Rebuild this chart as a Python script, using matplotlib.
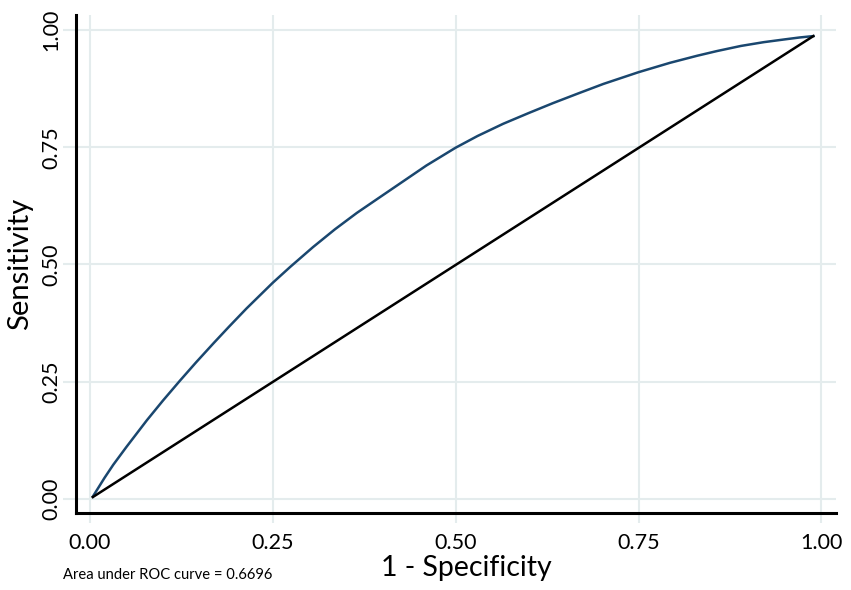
import matplotlib.pyplot as plt

plt.rcParams['font.family'] = ['Lato', 'DejaVu Sans']

# ROC curve
fpr = [0.004, 0.020, 0.032, 0.050, 0.078, 0.100, 0.123, 0.145, 0.169, 0.190,
       0.214, 0.250, 0.274, 0.305, 0.335, 0.365, 0.396, 0.428, 0.460, 0.500,
       0.530, 0.565, 0.600, 0.633, 0.668, 0.702, 0.750, 0.793, 0.830, 0.857,
       0.890, 0.921, 0.950, 0.970, 0.989]
tpr = [0.005, 0.045, 0.073, 0.111, 0.168, 0.210, 0.252, 0.291, 0.332, 0.367,
       0.406, 0.461, 0.495, 0.537, 0.575, 0.610, 0.643, 0.677, 0.711, 0.749,
       0.774, 0.800, 0.823, 0.844, 0.865, 0.885, 0.910, 0.930, 0.945, 0.955,
       0.966, 0.974, 0.980, 0.984, 0.987]

# reference line
ref_x = [0.004, 0.989]
ref_y = [0.004, 0.987]

ticks = [0.0, 0.25, 0.5, 0.75, 1.0]
tick_labels = ['0.00', '0.25', '0.50', '0.75', '1.00']
auc_text = 'Area under ROC curve = 0.6696'

grid_col = '#e4eced'

fig = plt.figure(figsize=(8.51, 5.90), dpi=100)
ax = fig.add_axes([0.0893, 0.1297, 0.8931, 0.8449])

ax.plot(fpr, tpr, color='#1a476f', linewidth=1.8, zorder=3)
ax.plot(ref_x, ref_y, color='black', linewidth=1.8, zorder=3)

ax.set_xlim(-0.019, 1.020)
ax.set_ylim(-0.031, 1.032)
ax.set_xticks(ticks)
ax.set_xticklabels(tick_labels)
ax.set_yticks(ticks)
ax.set_yticklabels(tick_labels, rotation=90, va='center')

ax.grid(True, color=grid_col, linewidth=1.5, zorder=0)
ax.set_axisbelow(True)
ax.tick_params(axis='x', length=7, width=1.5, color=grid_col, pad=7, labelsize=15.5)
ax.tick_params(axis='y', length=9.5, width=1.5, color=grid_col, pad=1, labelsize=15.5)

for side in ['top', 'right']:
    ax.spines[side].set_visible(False)
for side in ['left', 'bottom']:
    ax.spines[side].set_linewidth(2.2)
    ax.spines[side].set_color('black')

ax.set_xlabel('1 - Specificity', fontsize=20.5)
ax.xaxis.set_label_coords(0.514, -0.11, transform=ax.transAxes)
ax.xaxis.label.set_va('center')
ax.set_ylabel('Sensitivity', fontsize=21, labelpad=6)

fig.text(63 / 851, 1 - 575 / 590, auc_text, fontsize=10.6, va='center', ha='left')

fig.savefig('out.png', dpi=100)
